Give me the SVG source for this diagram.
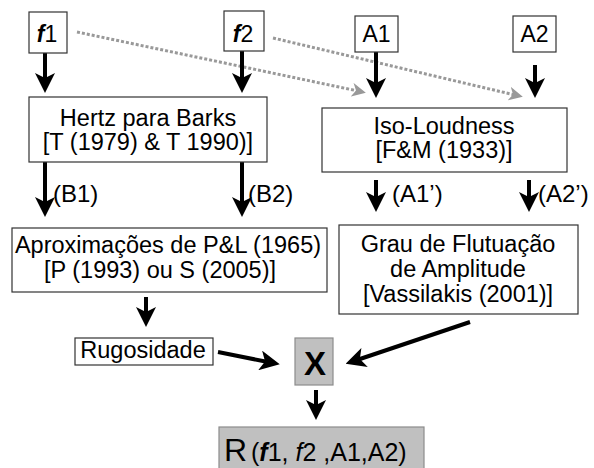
<svg xmlns="http://www.w3.org/2000/svg" width="594" height="468" viewBox="0 0 594 468">
<style>
text{font-family:"Liberation Sans",Arial,sans-serif;fill:#000}
.box{fill:#fff;stroke:#333;stroke-width:1.2}
.gbox{fill:#c0c0c0;stroke:#8c8c8c;stroke-width:1.2}
.t{font-size:23.5px;text-anchor:middle}
.in{font-size:23px;text-anchor:middle}
.lbl{font-size:24px}
.arr{stroke:#000;stroke-width:4;fill:none;marker-end:url(#ah)}
.dot{stroke:#999;stroke-width:3;stroke-dasharray:3 2;fill:none;marker-end:url(#gh)}
</style>
<defs>
<marker id="ah" viewBox="0 0 20 20" refX="8" refY="10" markerWidth="20" markerHeight="20" markerUnits="userSpaceOnUse" orient="auto">
<path d="M0,0 L20,10 L0,20 L5,10 Z" fill="#000"/>
</marker>
<marker id="gh" viewBox="0 0 14 14" refX="6" refY="7" markerWidth="14" markerHeight="14" markerUnits="userSpaceOnUse" orient="auto">
<path d="M0,0 L14,7 L0,14 L4,7 Z" fill="#999"/>
</marker>
</defs>
<rect width="594" height="468" fill="#fff"/>
<g id="connectors">
<line class="dot" x1="77" y1="32" x2="358" y2="91"/>
<line class="dot" x1="273" y1="38" x2="515" y2="95"/>
<line class="arr" x1="45" y1="53" x2="45" y2="81"/>
<line class="arr" x1="242" y1="51" x2="242" y2="81"/>
<line class="arr" x1="376" y1="52" x2="376" y2="86"/>
<line class="arr" x1="535" y1="65" x2="535" y2="86"/>
<line class="arr" x1="45" y1="162" x2="45" y2="205"/>
<line class="arr" x1="242" y1="162" x2="242" y2="205"/>
<line class="arr" x1="376" y1="180" x2="376" y2="200"/>
<line class="arr" x1="529" y1="180" x2="529" y2="200"/>
<line class="arr" x1="146" y1="297" x2="146" y2="315"/>
<line class="arr" x1="218" y1="352" x2="268" y2="362"/>
<line class="arr" x1="470" y1="322" x2="357" y2="360"/>
<line class="arr" x1="316" y1="390" x2="316" y2="408"/>
</g>
<g id="f1"><rect class="box" x="29" y="12" width="38" height="41"/><text class="in" x="47" y="42"><tspan font-weight="bold" font-style="italic">f</tspan>1</text></g>
<g id="f2"><rect class="box" x="224" y="11" width="40" height="40"/><text class="in" x="243" y="42"><tspan font-weight="bold" font-style="italic">f</tspan>2</text></g>
<g id="A1"><rect class="box" x="355" y="16" width="43" height="36"/><text class="in" x="376.5" y="42">A1</text></g>
<g id="A2"><rect class="box" x="513" y="16" width="43" height="36"/><text class="in" x="534.5" y="42">A2</text></g>
<g id="hertz"><rect class="box" x="29" y="97" width="238" height="65"/><text class="t" x="148" y="126">Hertz para Barks</text><text class="t" x="148" y="150">[T (1979) &amp; T 1990)]</text></g>
<g id="iso"><rect class="box" x="322" y="108" width="245" height="64"/><text class="t" x="444" y="134">Iso-Loudness</text><text class="t" x="444" y="158">[F&amp;M (1933)]</text></g>
<g id="labels">
<text class="lbl" x="53" y="202">(B1)</text>
<text class="lbl" x="248" y="202">(B2)</text>
<text class="lbl" x="392" y="202">(A1’)</text>
<text class="lbl" x="538" y="202">(A2’)</text>
</g>
<g id="aprox"><rect class="box" x="12" y="228" width="315" height="64"/><text class="t" x="168" y="253">Aproximações de P&amp;L (1965)</text><text class="t" x="160" y="278">[P (1993) ou S (2005)]</text></g>
<g id="grau"><rect class="box" x="339" y="225" width="239" height="89"/><text class="t" x="458" y="252">Grau de Flutuação</text><text class="t" x="458" y="277">de Amplitude</text><text class="t" x="458" y="302">[Vassilakis (2001)]</text></g>
<g id="rugosidade"><rect class="box" x="75" y="338" width="138" height="27"/><text class="t" x="143" y="358">Rugosidade</text></g>
<g id="X"><rect class="gbox" x="295" y="338" width="38" height="47"/><text x="315" y="375" font-size="33" font-weight="bold" text-anchor="middle">X</text></g>
<g id="R"><rect class="gbox" x="219" y="427" width="205" height="45"/><text x="224" y="461"><tspan font-size="32">R</tspan><tspan font-size="25" x="251">(<tspan font-weight="bold" font-style="italic">f</tspan>1, <tspan font-style="italic">f</tspan>2 ,A1,A2)</tspan></text></g>
</svg>
